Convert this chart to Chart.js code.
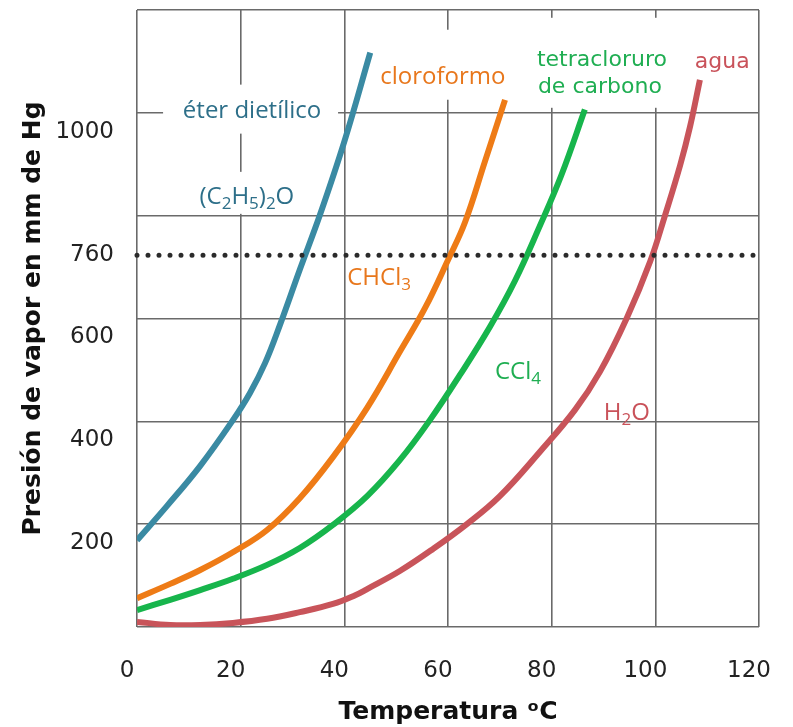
<!DOCTYPE html>
<html lang="es">
<head>
<meta charset="utf-8">
<title>Presión de vapor</title>
<script src="https://cdn.jsdelivr.net/npm/chart.js@4.4.1/dist/chart.umd.min.js"></script>
<style>
  html, body { margin: 0; padding: 0; background: #fff; }
  canvas { display: block; }
</style>
</head>
<body>
<canvas id="chart" width="793" height="727"></canvas>
<script>
// datos (temperatura en ºC, presión en mm de Hg)
const ETHER_T = [0, 5.8, 12.2, 18.5, 21.8, 24.7, 27.6, 31.4, 35.3, 40.1, 45.0];
const ETHER_P = [205, 272, 350, 439, 492, 550, 625, 732, 839, 985, 1155];

const CHLORO_T = [0, 6.4, 12.2, 18.9, 25.1, 31.4, 37.8, 44.4, 50.7, 55.6, 60.0, 63.3, 67.1, 71.0];
const CHLORO_P = [92, 120, 147, 184, 225, 287, 367, 463, 572, 658, 751, 825, 942, 1063];

const CCL4_T = [0, 6.4, 12.2, 18.5, 25.1, 31.4, 37.8, 44.4, 50.7, 56.5, 62.3, 68.1, 72.9, 77.7, 81.9, 86.4];
const CCL4_P = [69, 89, 108, 130, 157, 190, 235, 291, 361, 439, 527, 621, 710, 817, 917, 1044];

const WATER_T = [0, 6.4, 12.2, 18.5, 25.1, 31.4, 37.8, 42.1, 44.4, 50.7, 57.1, 63.7, 70.0, 77.7, 84.5, 89.3, 94.5, 99.0, 101.9, 104.8, 106.7, 108.6];
const WATER_P = [46, 40, 40, 44, 52, 65, 81, 98, 110, 145, 188, 237, 291, 377, 459, 533, 638, 748, 839, 936, 1011, 1102];

const ATM_T = [0, 120];
const ATM_P = [760, 760];

const Y_TICKS = [200, 400, 600, 760, 1000];

const pts = (ts, ps) => ts.map((t, i) => ({ x: t, y: ps[i] }));

const GRID = '#6a6a6a';
const TICK_FONT = { family: "'DejaVu Sans', sans-serif", size: 23 };
const TITLE_FONT = { family: "'DejaVu Sans', sans-serif", size: 25, weight: 'bold' };

// rótulos sobre el gráfico (posición en unidades de los ejes, "_" = subíndice)
const NOTES = [
  { text: 'éter dietílico', t: 22.2, p: 1040, color: '#2d6f89', font: 'Open Sans', size: 24, box: [-89, -27, 86, 22] },
  { text: '(C_2H_5)_2O', t: 21.2, p: 874, color: '#2d6f89', font: 'Open Sans', size: 24, box: [-67, -25, 68, 17] },
  { text: 'cloroformo', t: 59.0, p: 1108, color: '#e8771c', font: 'Open Sans', size: 24, box: [-71, -47, 72, 23] },
  { text: 'CHCl_3', t: 46.7, p: 716, color: '#e8771c', font: 'Open Sans', size: 24 },
  { text: 'tetracloruro', t: 89.7, p: 1141, color: '#1fae52', font: 'DejaVu Sans', size: 22, box: [-77, -42, 78, 48] },
  { text: 'de carbono', t: 89.3, p: 1088, color: '#1fae52', font: 'DejaVu Sans', size: 22 },
  { text: 'agua', t: 112.9, p: 1137, color: '#c9525a', font: 'DejaVu Sans', size: 22 },
  { text: 'CCl_4', t: 73.5, p: 533, color: '#1fae52', font: 'Open Sans', size: 24 },
  { text: 'H_2O', t: 94.5, p: 453, color: '#c9525a', font: 'Open Sans', size: 24 },
];

function splitSub(s) {
  const out = [];
  for (let i = 0; i < s.length; i++) {
    if (s[i] === '_') { out.push({ t: s[i + 1], sub: true }); i++; }
    else if (out.length && !out[out.length - 1].sub) out[out.length - 1].t += s[i];
    else out.push({ t: s[i], sub: false });
  }
  return out;
}

const notesPlugin = {
  id: 'notes',
  beforeDatasetsDraw(chart) {
    const { ctx, scales: { x, y } } = chart;
    ctx.save();
    ctx.fillStyle = '#fff';
    NOTES.forEach((n) => {
      if (!n.box) return;
      const cx = x.getPixelForValue(n.t), cy = y.getPixelForValue(n.p);
      const [l, t, r, b] = n.box;
      ctx.fillRect(cx + l, cy + t, r - l, b - t);
    });
    ctx.restore();
  },
  afterDatasetsDraw(chart) {
    const { ctx, scales: { x, y } } = chart;
    ctx.save();
    ctx.textBaseline = 'middle';
    ctx.textAlign = 'left';
    NOTES.forEach((n) => {
      const parts = splitSub(n.text);
      const big = `${n.size}px '${n.font}'`;
      const small = `${Math.round(n.size * 0.72)}px '${n.font}'`;
      let w = 0;
      parts.forEach((p) => { ctx.font = p.sub ? small : big; p.w = ctx.measureText(p.t).width; w += p.w; });
      let px = x.getPixelForValue(n.t) - w / 2;
      const cy = y.getPixelForValue(n.p);
      ctx.fillStyle = n.color;
      parts.forEach((p) => {
        ctx.font = p.sub ? small : big;
        ctx.fillText(p.t, px, p.sub ? cy + n.size * 0.32 : cy);
        px += p.w;
      });
    });
    ctx.restore();
  },
};

const curve = (data, color) => ({
  data, borderColor: color, borderWidth: 6, pointRadius: 0,
  tension: 0.4, borderCapStyle: 'butt', borderJoinStyle: 'round', fill: false,
});

// sin relleno automático alrededor del área del gráfico
const noPad = (s) => { s.paddingTop = 0; s.paddingBottom = 0; s.paddingLeft = 0; s.paddingRight = 0; };

new Chart(document.getElementById('chart'), {
  type: 'line',
  data: {
    datasets: [
      { data: pts(ATM_T, ATM_P), borderColor: '#2b2b2b', borderWidth: 5, borderDash: [0, 11],
        borderCapStyle: 'round', pointRadius: 0, fill: false, clip: 8 },
      curve(pts(ETHER_T, ETHER_P), '#3a8aa3'),
      curve(pts(CHLORO_T, CHLORO_P), '#ee7b16'),
      curve(pts(CCL4_T, CCL4_P), '#17b54c'),
      curve(pts(WATER_T, WATER_P), '#c8545a'),
    ],
  },
  options: {
    responsive: false,
    animation: false,
    layout: { padding: { top: 10, right: 34, left: 0, bottom: 0 } },
    plugins: { legend: { display: false }, tooltip: { enabled: false } },
    scales: {
      x: {
        type: 'linear', min: 0, max: 120,
        ticks: { stepSize: 20, labelOffset: -10, padding: 30, font: TICK_FONT, color: '#222' },
        grid: { color: GRID, lineWidth: 1.6, drawTicks: false },
        border: { display: false },
        title: { display: true, text: 'Temperatura ᵒC', font: TITLE_FONT, color: '#111', padding: { top: 0, bottom: 0 } },
        afterFit: (s) => { s.height = 100; noPad(s); },
      },
      y: {
        type: 'linear', min: 36, max: 1238,
        afterBuildTicks: (s) => { s.ticks = Y_TICKS.map((v) => ({ value: v })); },
        ticks: { padding: 15, font: TICK_FONT, color: '#222', callback: (v) => String(v), autoSkip: false },
        grid: { display: false },
        border: { display: false },
        title: { display: true, text: 'Presión de vapor en mm de Hg', font: TITLE_FONT, color: '#111', padding: { top: 18, bottom: 0 } },
        afterFit: (s) => { s.width = 137; noPad(s); },
      },
      yGrid: {
        type: 'linear', position: 'left', min: 0, max: 6,
        ticks: { display: false, stepSize: 1 },
        grid: { color: GRID, lineWidth: 1.6, drawTicks: false },
        border: { display: false },
        afterFit: (s) => { s.width = 0; noPad(s); },
      },
    },
  },
  plugins: [notesPlugin],
});
</script>
</body>
</html>
